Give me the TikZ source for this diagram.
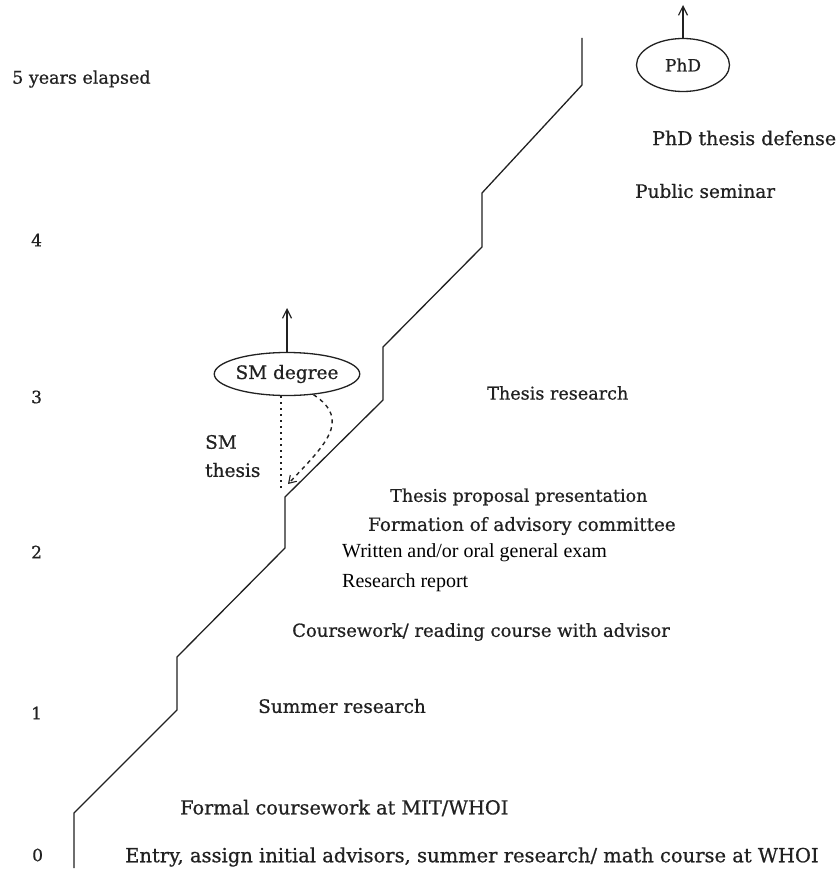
\documentclass[tikz,border=0pt]{standalone}
\usepackage{fontspec}
\setmainfont[FakeBold=0.7]{DejaVu Serif}
\newfontfamily\timesf{Liberation Serif}
\usetikzlibrary{arrows.meta,shapes.geometric}
\definecolor{inkc}{rgb}{0.13,0.13,0.13}
\newcommand\fsz[1]{\fontsize{#1}{#1}\selectfont}
\begin{document}
\begin{tikzpicture}[x=1pt,y=-1pt,
  stair/.style={draw=inkc, line width=1.3pt, line join=miter},
  oval/.style={ellipse, draw=inkc, line width=1.3pt, inner sep=0pt, text=inkc},
  upar/.style={draw=inkc, line width=1.2pt, -{Straight Barb[length=9pt,width=9pt,line width=1.2pt]}},
  lab/.style={anchor=west, inner sep=0pt, text=inkc, font=\fsz{18.5}},
  ylab/.style={anchor=west, inner sep=0pt, text=inkc, font=\fsz{17}},
  tlab/.style={anchor=west, inner sep=0pt, text=black, font=\timesf\fsz{20}}
]
\useasboundingbox (0,0) rectangle (836,880);

% staircase
\coordinate (p0) at (74,868);
\coordinate (p1) at (74,813);
\coordinate (p2) at (177,710);
\coordinate (p3) at (177,657);
\coordinate (p4) at (285,548);
\coordinate (p5) at (285,497);
\coordinate (p6) at (383,400);
\coordinate (p7) at (383,347);
\coordinate (p8) at (482,247);
\coordinate (p9) at (482,193);
\coordinate (p10) at (582,85);
\coordinate (p11) at (582,38);
\draw[stair] (p0) -- (p1) -- (p2) -- (p3) -- (p4) -- (p5) -- (p6) -- (p7) -- (p8) -- (p9) -- (p10) -- (p11);

% y-axis labels
\node[ylab, font=\fsz{17.5}] (y5) at (12,79) {5 years elapsed};
\node[ylab] (y4) at (31,240) {4};
\node[ylab] (y3) at (31,397) {3};
\node[ylab] (y2) at (31,552) {2};
\node[ylab] (y1) at (31,713) {1};
\node[ylab] (y0) at (32,855) {0};

% ovals
\node[oval, minimum width=139pt, minimum height=43pt, font=\fsz{18.5}] (sm) at (287,374) {SM degree};
\node[oval, minimum width=93pt, minimum height=53pt, font=\fsz{17}] (phd) at (683,65) {PhD};
\coordinate (smtop) at (287,308);
\coordinate (phdtop) at (683,5);
\draw[upar] (sm.north) -- (smtop);
\draw[upar] (phd.north) -- (phdtop);

% SM thesis connectors
\coordinate (dv) at (281,490);
\coordinate (dtip) at (288,484);
\draw[draw=inkc, line width=1.4pt, dash pattern=on 2pt off 4pt] ([xshift=-6pt]sm.south) -- (dv);
\draw[draw=inkc, line width=1.4pt, dash pattern=on 4pt off 4pt, -{Straight Barb[length=7pt,width=9pt,line width=1.1pt]}]
  (sm.-38) .. controls (352,420) and (325,445) .. (dtip);

% labels
\node[lab, font=\fsz{19}] (phdd) at (652,138) {PhD thesis defense};
\node[lab] (pubs) at (635,191) {Public seminar};
\node[lab, font=\fsz{17.6}] (thr) at (487,393) {Thesis research};
\node[lab] (smt1) at (205,442) {SM};
\node[lab] (smt2) at (205,470) {thesis};
\node[lab, font=\fsz{17.5}] (tpp) at (390,497) {Thesis proposal presentation};
\node[lab, font=\fsz{18.3}] (fac) at (368,526) {Formation of advisory committee};
\node[tlab] (woe) at (342,553) {Written and/or oral general exam};
\node[tlab] (rr) at (342,583) {Research report};
\node[lab, font=\fsz{18}] (cw) at (292,632) {Coursework/ reading course with advisor};
\node[lab] (sr) at (258,706) {Summer research};
\node[lab, font=\fsz{19.3}] (fc) at (180,808) {Formal coursework at MIT/WHOI};
\node[lab, font=\fsz{19.5}] (en) at (125,857) {Entry, assign initial advisors, summer research/ math course at WHOI};
\end{tikzpicture}
\end{document}
